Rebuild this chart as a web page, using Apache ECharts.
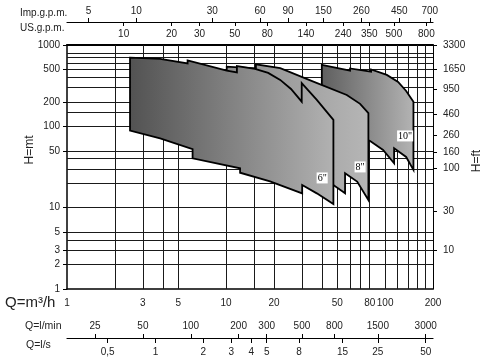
<!DOCTYPE html>
<html><head><meta charset="utf-8">
<script src="https://cdn.jsdelivr.net/npm/echarts@6.0.0/dist/echarts.min.js"></script>
<style>html,body{margin:0;padding:0;background:#fff}#c{width:489px;height:363px}</style>
</head><body><div id="c"></div>
<script>
// ---- axis ranges (Q in m3/h, H in m)
const qRange = [1, 200];
const hRange = [1, 1000];
// ---- grid lines
const qGrid = [2, 3, 4, 5, 10, 15, 20, 30, 40, 50, 60, 70, 80, 100, 120, 140, 160, 180];
const hGrid = [2, 3, 4, 5, 10, 20, 30, 40, 50, 100, 150, 200, 300, 400, 500, 600, 700, 800];
// ---- tick labels
const qLabels = [1, 3, 5, 10, 20, 50, 80, 100, 200];
const hLabels = [1, 2, 3, 5, 10, 50, 100, 200, 500, 800, 1000];
const ftLabels = [10, 30, 100, 160, 260, 460, 950, 1650, 3300];
const lminLabels = [25, 50, 100, 200, 300, 500, 800, 1500, 3000];
const lsLabels = [0.5, 1, 2, 3, 4, 5, 8, 15, 25, 50];
const impLabels = [5, 10, 30, 60, 90, 150, 260, 450, 700];
const usLabels = [10, 20, 30, 50, 80, 140, 240, 350, 500, 800];
// ---- unit factors
const LMIN_PER_M3H = 1000 / 60;
const LS_PER_M3H = 1 / 3.6;
const IMP_PER_M3H = 3.666;
const US_PER_M3H = 4.403;
const FT_PER_M = 3.3;
// ---- pump envelopes [Q m3/h, H m]
const pump6 = [[2.49,700],[3.85,675],[5.73,594],[5.73,647],[10.1,484],[11.7,460],[11.7,550],[15.2,508],[18.4,454],[21.9,372],[25.6,288],[29.9,201],[29.9,339],[37.2,211],[47.3,120],[47.3,11.1],[37.2,15.0],[30.1,19.0],[30.1,15.0],[18.9,21.0],[12.25,26.9],[12.25,30.5],[6.16,40.5],[6.16,52.3],[3.85,71],[2.49,88.5]];
const pump8 = [[10.1,51],[10.1,542],[15.4,515],[15.4,580],[21.9,518],[35.4,355],[57.4,243],[69.6,189],[78.5,145],[78.5,12.4],[66.7,20.9],[56.0,26.5],[56.0,15.0],[47.3,19.0]];
const pump10 = [[40.0,569],[60.2,484],[60.2,515],[81.6,471],[81.6,501],[102.5,429],[120.7,352],[135.6,272],[150.7,201],[150.7,29.1],[135.6,42.0],[113.9,53.8],[113.9,35.2],[97.1,51.3],[80.5,66.1],[52.1,95.5],[40.0,104]];
const pumpNames = ['6"', '8"', '10"'];
const pumpLabelPos = [[40.2,23.2],[69.6,31.7],[133.6,76.2]];
const pumpColors = [['#525252','#b2b2b2'],['#8c8c8c','#b6b6b6'],['#5e5e5e','#b4b4b4']];

const FONT = 'Liberation Sans';
const TXT = '#222';
const fmt = v => String(Number(Number(v).toPrecision(6))).replace('.', ',');
const lab = (vals, extra) => Object.assign({fontFamily: FONT, fontSize: 10, color: TXT, customValues: vals, formatter: fmt, hideOverlap: false, showMinLabel: true, showMaxLabel: true}, extra || {});

function shapeSeries(pts, colors, labelPos, labelText, z) {
  return {
    type: 'custom', z: z, silent: true, animation: false,
    xAxisIndex: 0, yAxisIndex: 0,
    data: [[10, 10]],
    renderItem: function (params, api) {
      const points = pts.map(p => api.coord(p));
      const lp = api.coord(labelPos);
      return {type: 'group', children: [
        {type: 'polygon', shape: {points: points},
         style: {fill: new echarts.graphic.LinearGradient(0, 0, 1, 0, [{offset: 0, color: colors[0]}, {offset: 1, color: colors[1]}]),
                 stroke: '#000', lineWidth: 1.8, lineJoin: 'miter'}},
        {type: 'text', x: lp[0], y: lp[1], z2: 5,
         style: {text: labelText, fill: '#000', font: '10px "Liberation Serif"', align: 'center', verticalAlign: 'middle',
                 backgroundColor: '#fff', padding: [1, 1, 0, 1]}}
      ]};
    }
  };
}

const chart = echarts.init(document.getElementById('c'), null, {renderer: 'canvas'});
const plain = {axisLine: {show: false}, axisTick: {show: false}, axisLabel: {show: false}, splitLine: {show: false}};
chart.setOption({
  animation: false,
  backgroundColor: '#fff',
  grid: {left: 67, top: 45, width: 366, height: 244, containLabel: false},
  xAxis: [
    {type: 'log', logBase: 10, min: qRange[0], max: qRange[1], position: 'bottom',
     axisLine: {lineStyle: {color: '#000', width: 1.5}}, axisTick: {show: false},
     axisLabel: lab(qLabels, {margin: 9}), splitLine: {show: false}},
    {type: 'log', logBase: 10, min: qRange[0] * LMIN_PER_M3H, max: qRange[1] * LMIN_PER_M3H, position: 'bottom', offset: 49,
     axisLine: {lineStyle: {color: '#000', width: 1.2}},
     axisTick: {inside: true, length: 4, customValues: lminLabels, lineStyle: {color: '#000'}},
     axisLabel: lab(lminLabels, {inside: true, margin: 7}), splitLine: {show: false}},
    {type: 'log', logBase: 10, min: qRange[0] * LS_PER_M3H, max: qRange[1] * LS_PER_M3H, position: 'bottom', offset: 49,
     axisLine: {show: false},
     axisTick: {inside: false, length: 5, customValues: lsLabels, lineStyle: {color: '#000'}},
     axisLabel: lab(lsLabels, {margin: 9}), splitLine: {show: false}},
    {type: 'log', logBase: 10, min: qRange[0] * IMP_PER_M3H, max: qRange[1] * IMP_PER_M3H, position: 'top', offset: 23,
     axisLine: {lineStyle: {color: '#000', width: 1.2}},
     axisTick: {inside: false, length: 4, customValues: impLabels, lineStyle: {color: '#000'}},
     axisLabel: lab(impLabels, {margin: 6}), splitLine: {show: false}},
    {type: 'log', logBase: 10, min: qRange[0] * US_PER_M3H, max: qRange[1] * US_PER_M3H, position: 'top', offset: 23,
     axisLine: {show: false},
     axisTick: {inside: true, length: 4, customValues: usLabels, lineStyle: {color: '#000'}},
     axisLabel: lab(usLabels, {inside: true, margin: 7}), splitLine: {show: false}},
    Object.assign({type: 'log', logBase: 10, min: qRange[0], max: qRange[1], position: 'top', offset: 0}, plain,
      {axisLine: {show: true, lineStyle: {color: '#000', width: 2}}})
  ],
  yAxis: [
    {type: 'log', logBase: 10, min: hRange[0], max: hRange[1], position: 'left',
     axisLine: {lineStyle: {color: '#000', width: 1.5}},
     axisTick: {inside: false, length: 4, customValues: hLabels, lineStyle: {color: '#000'}},
     axisLabel: lab(hLabels, {margin: 7}), splitLine: {show: false}},
    {type: 'log', logBase: 10, min: hRange[0] * FT_PER_M, max: hRange[1] * FT_PER_M, position: 'right',
     axisLine: {lineStyle: {color: '#000', width: 1}},
     axisTick: {inside: false, length: 4, customValues: ftLabels, lineStyle: {color: '#000'}},
     axisLabel: lab(ftLabels, {margin: 10}), splitLine: {show: false}}
  ],
  series: [
    {type: 'custom', z: 1, silent: true, xAxisIndex: 0, yAxisIndex: 0, data: [[10, 10]],
     renderItem: () => ({type: 'group', children: []}),
     markLine: {silent: true, z: 1, animation: false, symbol: ['none', 'none'], label: {show: false},
       emphasis: {disabled: true}, lineStyle: {color: '#1a1a1a', width: 1, type: 'solid'},
       data: [...qGrid.map(v => ({xAxis: v})), ...hGrid.map(v => ({yAxis: v}))]}},
    shapeSeries(pump10, pumpColors[2], pumpLabelPos[2], pumpNames[2], 10),
    shapeSeries(pump8, pumpColors[1], pumpLabelPos[1], pumpNames[1], 11),
    shapeSeries(pump6, pumpColors[0], pumpLabelPos[0], pumpNames[0], 12)
  ],
  graphic: [
    {type: 'text', left: 20, top: 8, style: {text: 'Imp.g.p.m.', font: '10px "' + FONT + '"', fill: TXT}},
    {type: 'text', left: 20, top: 23, style: {text: 'US.g.p.m.', font: '10px "' + FONT + '"', fill: TXT}},
    {type: 'text', left: 5, top: 295, style: {text: 'Q=m³/h', font: '15px "' + FONT + '"', fill: TXT}},
    {type: 'text', left: 25, top: 321, style: {text: 'Q=l/min', font: '10.5px "' + FONT + '"', fill: TXT}},
    {type: 'text', left: 26, top: 340, style: {text: 'Q=l/s', font: '10.5px "' + FONT + '"', fill: TXT}},
    {type: 'text', x: 30, y: 150, rotation: Math.PI / 2, style: {text: 'H=mt', font: '12px "' + FONT + '"', fill: TXT, align: 'center', verticalAlign: 'middle'}},
    {type: 'text', x: 477, y: 161, rotation: Math.PI / 2, style: {text: 'H=ft', font: '12px "' + FONT + '"', fill: TXT, align: 'center', verticalAlign: 'middle'}}
  ]
});
</script></body></html>
